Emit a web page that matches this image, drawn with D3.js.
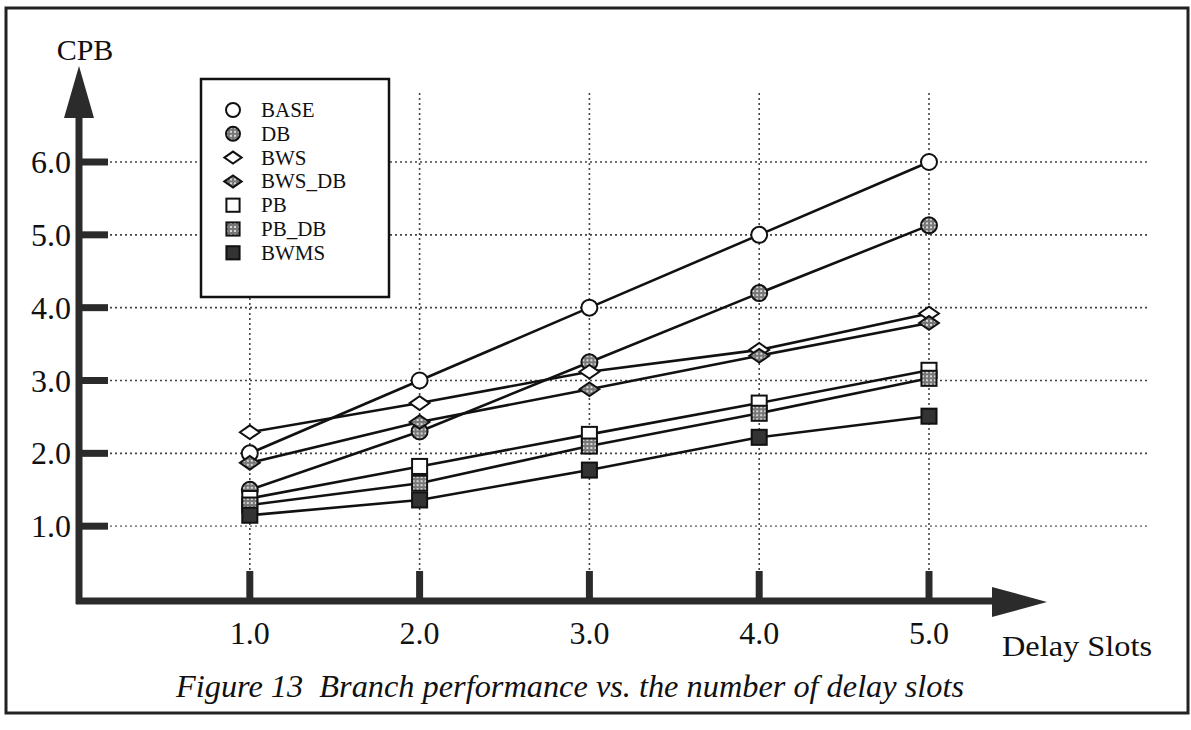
<!DOCTYPE html>
<html>
<head>
<meta charset="utf-8">
<script src="https://cdn.jsdelivr.net/npm/d3@7"></script>
<style>
  body { margin: 0; background: #fff; }
  svg { display: block; }
  svg text { font-family: "Liberation Serif", "Times New Roman", Times, serif; white-space: pre; }
</style>
</head>
<body>
<div id="chart"></div>
<script>
// Values (CPB vs. delay slots)
const delaySlots = [1, 2, 3, 4, 5];
const xTicks = [1, 2, 3, 4, 5];
const yTicks = [1, 2, 3, 4, 5, 6];

const seriesNames = ["BASE", "DB", "BWS", "BWS_DB", "PB", "PB_DB", "BWMS"];
const base = [2.0, 3.0, 4.0, 5.0, 6.0];
const db = [1.5, 2.3, 3.25, 4.2, 5.13];
const bws = [2.29, 2.69, 3.12, 3.42, 3.92];
const bwsDb = [1.87, 2.43, 2.88, 3.34, 3.79];
const pb = [1.38, 1.82, 2.26, 2.69, 3.14];
const pbDb = [1.29, 1.59, 2.1, 2.55, 3.03];
const bwms = [1.15, 1.36, 1.77, 2.22, 2.51];

const width = 1191;
const height = 730;

const svg = d3.select("#chart").append("svg").attr("width", width).attr("height", height);

// dotted fill used by the *_DB markers
const defs = svg.append("defs");
const pat = defs.append("pattern").attr("id", "dots").attr("width", 4).attr("height", 4).attr("patternUnits", "userSpaceOnUse");
pat.append("rect").attr("width", 4).attr("height", 4).attr("fill", "#777");
pat.append("circle").attr("cx", 2).attr("cy", 2).attr("r", 1.1).attr("fill", "#eee");

const styles = {
  BASE: { shape: "circle", fill: "#fff" },
  DB: { shape: "circle", fill: "url(#dots)" },
  BWS: { shape: "diamond", fill: "#fff" },
  BWS_DB: { shape: "diamond", fill: "url(#dots)" },
  PB: { shape: "square", fill: "#fff" },
  PB_DB: { shape: "square", fill: "url(#dots)" },
  BWMS: { shape: "square", fill: "#333" }
};
const seriesValues = { BASE: base, DB: db, BWS: bws, BWS_DB: bwsDb, PB: pb, PB_DB: pbDb, BWMS: bwms };

const x = d3.scaleLinear().domain([0, 5]).range([80, 929]);
const y = d3.scaleLinear().domain([0, 6]).range([599, 162]);

// outer frame
svg.append("rect").attr("x", 6).attr("y", 8).attr("width", 1182).attr("height", 705)
  .attr("fill", "none").attr("stroke", "#222").attr("stroke-width", 3);

// grid
const grid = svg.append("g").attr("stroke", "#444").attr("stroke-width", 1.6).attr("stroke-dasharray", "2,3");
grid.selectAll(".hgrid").data(yTicks).enter().append("line")
  .attr("x1", 110).attr("x2", 1150)
  .attr("y1", (d) => y(d)).attr("y2", (d) => y(d))
  .attr("stroke", (d) => (d === 1 ? "#888" : null));
grid.selectAll(".vgrid").data(xTicks).enter().append("line")
  .attr("x1", (d) => x(d)).attr("x2", (d) => x(d))
  .attr("y1", 93).attr("y2", 570);

// axes: thick lines with arrow heads
const axisCol = "#2b2b2b";
svg.append("line").attr("x1", x(0) - 1).attr("x2", x(0) - 1).attr("y1", 115).attr("y2", 604)
  .attr("stroke", axisCol).attr("stroke-width", 7);
svg.append("path").attr("d", `M${x(0) - 1},66 L${x(0) - 16},118 L${x(0) + 14},118 Z`).attr("fill", axisCol);
svg.append("line").attr("x1", 76).attr("x2", 995).attr("y1", 601).attr("y2", 601)
  .attr("stroke", axisCol).attr("stroke-width", 7);
svg.append("path").attr("d", "M1047,602 L992,587 L992,617 Z").attr("fill", axisCol);

// tick stubs
svg.selectAll(".ytick").data(yTicks).enter().append("line")
  .attr("x1", x(0)).attr("x2", 108)
  .attr("y1", (d) => y(d)).attr("y2", (d) => y(d))
  .attr("stroke", axisCol).attr("stroke-width", 7);
svg.selectAll(".xtick").data(xTicks).enter().append("line")
  .attr("x1", (d) => x(d)).attr("x2", (d) => x(d))
  .attr("y1", 571).attr("y2", 600)
  .attr("stroke", axisCol).attr("stroke-width", 7);

// tick labels
svg.selectAll(".ylab").data(yTicks).enter().append("text")
  .attr("x", 71).attr("y", (d) => y(d) + 11)
  .attr("text-anchor", "end").attr("font-size", 32).attr("fill", "#111")
  .text((d) => d3.format(".1f")(d));
svg.selectAll(".xlab").data(xTicks).enter().append("text")
  .attr("x", (d) => x(d)).attr("y", 644)
  .attr("text-anchor", "middle").attr("font-size", 32).attr("fill", "#111")
  .text((d) => d3.format(".1f")(d));

svg.append("text").attr("x", 85).attr("y", 60).attr("text-anchor", "middle")
  .attr("font-size", 30).attr("fill", "#111").text("CPB");
svg.append("text").attr("x", 1002).attr("y", 656)
  .attr("font-size", 30).attr("fill", "#111")
  .attr("textLength", 150).attr("lengthAdjust", "spacingAndGlyphs").text("Delay Slots");
svg.append("text").attr("x", 176).attr("y", 697)
  .attr("font-size", 31).attr("font-style", "italic").attr("fill", "#111")
  .attr("textLength", 788).attr("lengthAdjust", "spacingAndGlyphs")
  .text("Figure 13  Branch performance vs. the number of delay slots");

// marker drawing
function marker(sel, shape, size) {
  if (shape === "circle") {
    return sel.append("circle").attr("r", size * 0.5);
  }
  if (shape === "diamond") {
    const w = size * 0.62, h = size * 0.43;
    return sel.append("path").attr("d", `M${-w},0 L0,${-h} L${w},0 L0,${h} Z`);
  }
  const s = size * 0.47;
  return sel.append("rect").attr("x", -s).attr("y", -s).attr("width", 2 * s).attr("height", 2 * s);
}

const line = d3.line().x((d) => x(d.x)).y((d) => y(d.y));

seriesNames.forEach((name) => {
  const pts = delaySlots.map((d, i) => ({ x: d, y: seriesValues[name][i] }));
  svg.append("path").datum(pts).attr("d", line)
    .attr("fill", "none").attr("stroke", "#111").attr("stroke-width", 2.6);
});

seriesNames.forEach((name) => {
  const pts = delaySlots.map((d, i) => ({ x: d, y: seriesValues[name][i] }));
  const st = styles[name];
  svg.selectAll(null).data(pts).enter().append("g")
    .attr("transform", (d) => `translate(${x(d.x)},${y(d.y)})`)
    .each(function () {
      marker(d3.select(this), st.shape, 16)
        .attr("fill", st.fill).attr("stroke", "#111").attr("stroke-width", 2);
    });
});

// legend box
const legend = svg.append("g");
legend.append("rect").attr("x", 201).attr("y", 79).attr("width", 188).attr("height", 218)
  .attr("fill", "#fff").attr("stroke", "#111").attr("stroke-width", 2.5);
const rows = legend.selectAll(".row").data(seriesNames).enter().append("g")
  .attr("transform", (d, i) => `translate(233,${110 + i * 23.8})`);
rows.each(function (d) {
  marker(d3.select(this), styles[d].shape, 14)
    .attr("fill", styles[d].fill).attr("stroke", "#111").attr("stroke-width", 2);
});
rows.append("text").attr("x", 28).attr("y", 7).attr("font-size", 21).attr("fill", "#111").text((d) => d);
</script>
</body>
</html>
